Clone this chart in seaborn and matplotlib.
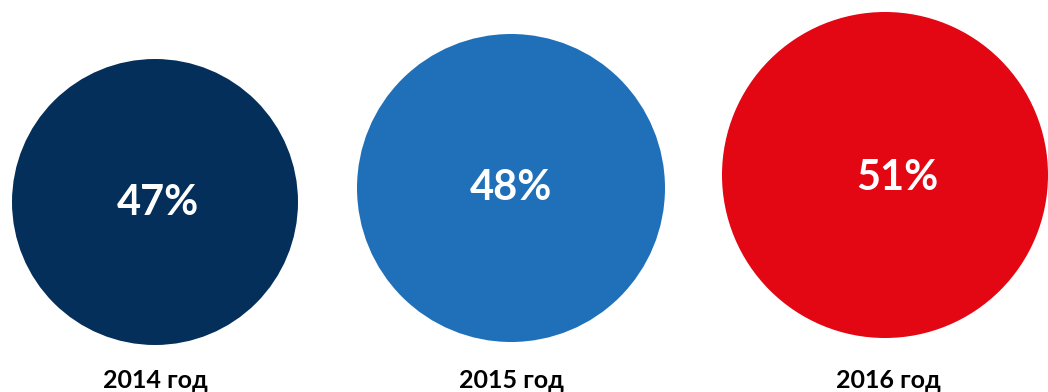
import matplotlib
matplotlib.use("Agg")
import matplotlib.pyplot as plt
import seaborn as sns
from matplotlib.patches import Circle

sns.set_theme(style="white")
plt.rcParams['font.family'] = ['Lato', 'DejaVu Sans']

years = ["2014 год", "2015 год", "2016 год"]
values = [47, 48, 51]
colors = ["#032F5A", "#1F70B8", "#E30613"]

# layout (pixel coordinates)
cx = [155, 511, 885]
cy = [202, 188, 175]
rad = [143, 154, 163]
lab_x = [158, 511, 897]
lab_y = [203, 188, 178]
year_x = [155, 511, 888]

fig = plt.figure(figsize=(10.48, 3.92), dpi=100)
ax = fig.add_axes([0, 0, 1, 1])
ax.set_xlim(0, 1048)
ax.set_ylim(392, 0)
ax.set_aspect('equal')
ax.axis('off')

for i, v in enumerate(values):
    ax.add_patch(Circle((cx[i], cy[i]), rad[i], color=colors[i], lw=0))
    ax.text(lab_x[i], lab_y[i], f"{v}%", color="white", fontsize=30,
            fontweight="bold", ha="center", va="center")
    ax.text(year_x[i], 380, years[i], color="black", fontsize=18,
            fontweight="bold", ha="center", va="center")

fig.savefig("out.png", dpi=100)
